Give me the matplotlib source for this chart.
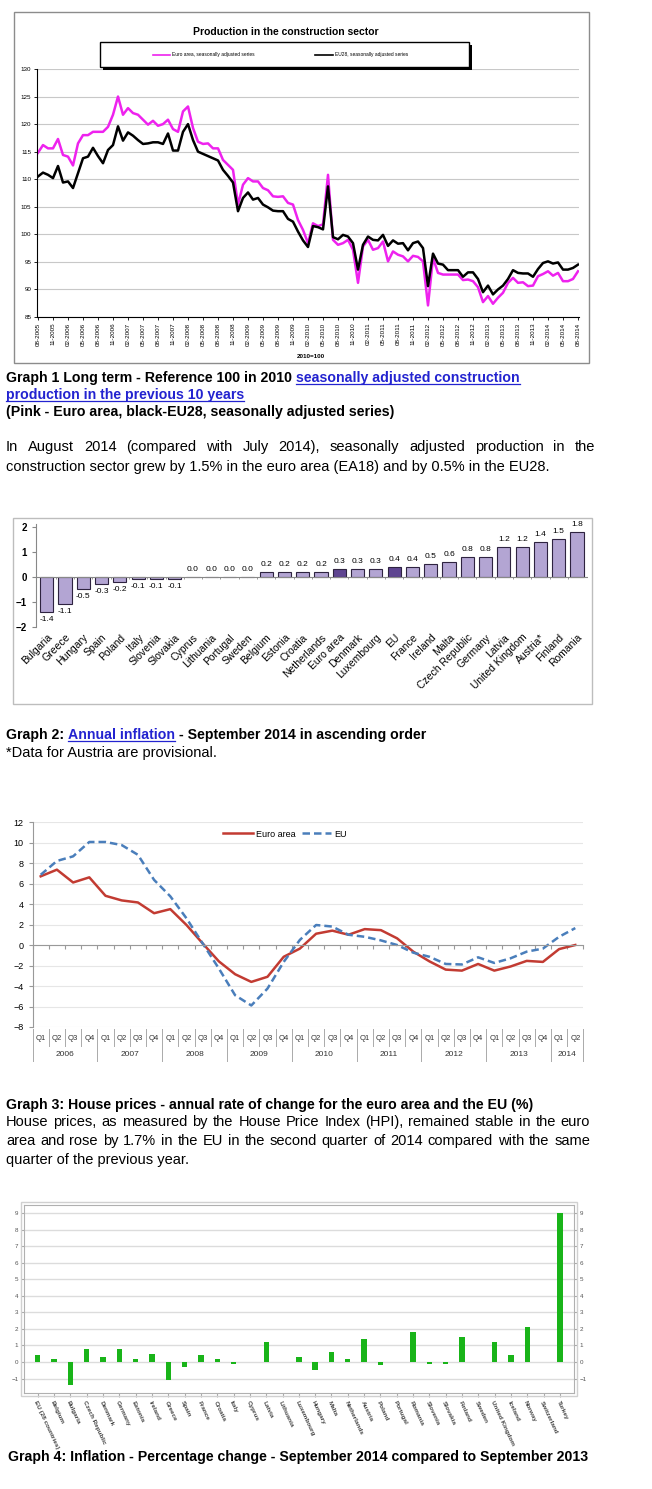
import matplotlib
matplotlib.use('Agg')
import matplotlib.pyplot as plt
import matplotlib.transforms as mtransforms
from matplotlib.patches import Rectangle
from matplotlib.lines import Line2D
import numpy as np
import pandas as pd

W, H = 652, 1489
plt.rcParams['font.family'] = ['Liberation Sans', 'DejaVu Sans']

# Graph 1 - production in construction, monthly, 2010=100
months = pd.period_range('2005-08', '2014-08', freq='M').strftime('%m-%Y').tolist()
euro_area_prod = [114.8, 116.2, 115.6, 115.6, 117.3, 114.4, 114.1, 112.5, 116.5, 118.0,
                  118.0, 118.6, 118.6, 118.6, 119.5, 121.7, 125.0, 121.7, 122.9, 122.0,
                  121.7, 120.8, 119.9, 120.6, 119.7, 120.0, 120.8, 119.1, 118.6, 122.3,
                  123.2, 119.3, 116.8, 116.4, 116.5, 115.6, 115.6, 113.5, 112.6, 111.7,
                  105.4, 109.0, 110.2, 109.6, 109.6, 108.4, 108.0, 106.9, 106.8, 106.9,
                  105.7, 105.4, 102.6, 100.8, 98.4, 102.0, 101.5, 101.8, 110.8, 99.0,
                  98.1, 98.4, 99.0, 97.2, 91.2, 97.8, 99.0, 97.2, 97.5, 98.7,
                  95.1, 96.9, 96.3, 96.0, 95.1, 96.1, 95.9, 95.1, 87.1, 95.7,
                  93.0, 92.7, 92.7, 92.7, 92.7, 91.7, 91.8, 91.5, 90.4, 87.7,
                  88.8, 87.4, 88.5, 89.4, 91.2, 92.1, 91.2, 91.3, 90.6, 90.7,
                  92.4, 92.8, 93.3, 92.5, 93.0, 91.5, 91.5, 91.9, 93.3]
eu28_prod = [110.5, 111.2, 110.8, 110.2, 112.4, 109.4, 109.6, 108.4, 111.1, 113.8,
             114.1, 115.7, 114.2, 112.9, 115.3, 116.2, 119.6, 117.0, 118.5, 117.9,
             117.1, 116.4, 116.5, 116.7, 116.7, 116.4, 118.3, 115.2, 115.2, 118.6,
             120.0, 117.1, 115.0, 114.6, 114.2, 113.8, 113.4, 111.7, 110.6, 109.4,
             104.2, 106.6, 107.6, 106.3, 106.6, 105.4, 104.9, 104.3, 104.2, 104.2,
             102.8, 102.3, 100.5, 98.9, 97.7, 101.5, 101.3, 100.9, 108.7, 99.5,
             99.1, 99.9, 99.6, 98.4, 93.6, 98.1, 99.6, 99.0, 98.9, 99.9,
             97.9, 98.9, 98.3, 98.4, 97.1, 98.4, 98.7, 97.5, 90.6, 96.5,
             94.7, 94.5, 93.5, 93.5, 93.5, 92.3, 93.1, 93.1, 91.9, 89.5,
             90.7, 89.1, 90.0, 90.7, 91.9, 93.5, 93.0, 92.9, 92.9, 92.3,
             93.7, 94.8, 95.1, 94.7, 94.9, 93.6, 93.6, 93.9, 94.5]

# Graph 2 - annual inflation September 2014
infl_countries = ['Bulgaria', 'Greece', 'Hungary', 'Spain', 'Poland', 'Italy', 'Slovenia',
                  'Slovakia', 'Cyprus', 'Lithuania', 'Portugal', 'Sweden', 'Belgium',
                  'Estonia', 'Croatia', 'Netherlands', 'Euro area', 'Denmark', 'Luxembourg',
                  'EU', 'France', 'Ireland', 'Malta', 'Czech Republic', 'Germany', 'Latvia',
                  'United Kingdom', 'Austria*', 'Finland', 'Romania']
infl_values = [-1.4, -1.1, -0.5, -0.3, -0.2, -0.1, -0.1, -0.1, 0.0, 0.0, 0.0, 0.0, 0.2, 0.2,
               0.2, 0.2, 0.3, 0.3, 0.3, 0.4, 0.4, 0.5, 0.6, 0.8, 0.8, 1.2, 1.2, 1.4, 1.5, 1.8]
infl_highlight = ['Euro area', 'EU']

# Graph 3 - house prices, annual rate of change
hp_quarters = ['Q1', 'Q2', 'Q3', 'Q4'] * 8 + ['Q1', 'Q2']
hp_years = ['2006', '2007', '2008', '2009', '2010', '2011', '2012', '2013', '2014']
hp_euro = [6.7, 7.35, 6.1, 6.6, 4.8, 4.35, 4.15, 3.1, 3.5, 1.95, 0.15, -1.6, -2.85, -3.6,
           -3.1, -1.15, -0.35, 1.1, 1.4, 1.0, 1.55, 1.45, 0.65, -0.65, -1.6, -2.4, -2.5,
           -1.85, -2.5, -2.1, -1.55, -1.65, -0.4, 0.0]
hp_eu = [6.85, 8.2, 8.65, 10.05, 10.05, 9.75, 8.8, 6.35, 4.75, 2.6, 0.15, -2.3, -4.9, -5.9,
         -4.25, -1.65, 0.5, 1.95, 1.8, 1.0, 0.8, 0.45, 0.0, -0.75, -1.15, -1.85, -1.9, -1.2,
         -1.75, -1.3, -0.65, -0.35, 0.8, 1.65]

# Graph 4 - inflation Sept 2014 vs Sept 2013
g4_countries = ['EU (28 countries)', 'Belgium', 'Bulgaria', 'Czech Republic', 'Denmark',
                'Germany', 'Estonia', 'Ireland', 'Greece', 'Spain', 'France', 'Croatia',
                'Italy', 'Cyprus', 'Latvia', 'Lithuania', 'Luxembourg', 'Hungary', 'Malta',
                'Netherlands', 'Austria', 'Poland', 'Portugal', 'Romania', 'Slovenia',
                'Slovakia', 'Finland', 'Sweden', 'United Kingdom', 'Iceland', 'Norway',
                'Switzerland', 'Turkey']
g4_values = [0.4, 0.2, -1.4, 0.8, 0.3, 0.8, 0.2, 0.5, -1.1, -0.3, 0.4, 0.2, -0.1, 0.0, 1.2,
             0.0, 0.3, -0.5, 0.6, 0.2, 1.4, -0.2, 0.0, 1.8, -0.1, -0.1, 1.5, 0.0, 1.2, 0.4,
             2.1, 0.0, 9.0]

fig = plt.figure(figsize=(W / 100, H / 100), dpi=100)
renderer = fig.canvas.get_renderer()
LINK = '#2323d0'


def box(left, top, right, bottom):
    return [left / W, 1 - bottom / H, (right - left) / W, (bottom - top) / H]


def px(x, y):
    return x / W, 1 - y / H


def text_width(s, **kw):
    t = fig.text(0, 0, s, **kw)
    w = t.get_window_extent(renderer).width
    t.remove()
    return w


def runs(x, y, parts, **kw):
    space = text_width('a a', **kw) - text_width('aa', **kw)
    for s, color, link in parts:
        t = fig.text(*px(x, y), s, color=color, va='baseline', **kw)
        w = t.get_window_extent(renderer).width
        if link:
            fig.add_artist(Line2D([x / W, (x + w) / W], [1 - (y + 2) / H] * 2,
                                  color=color, lw=0.9))
        x += w + space


def justify(y, s, x0, x1, **kw):
    words = s.split()
    arts = [fig.text(0, 0, w, va='baseline', **kw) for w in words]
    widths = [a.get_window_extent(renderer).width for a in arts]
    gap = (x1 - x0 - sum(widths)) / (len(words) - 1)
    x = x0
    for a, w in zip(arts, widths):
        a.set_position(px(x, y))
        x += w + gap


cap = dict(fontsize=10.2, fontweight='bold')
body = dict(fontsize=10.5)

# ---------------- Graph 1
fig.add_artist(Rectangle(px(14, 363), 575 / W, 351 / H, fill=False, ec='#8c8c8c', lw=1))
ax1 = fig.add_axes(box(37, 69, 579, 317))
x1 = np.arange(len(months))
ax1.plot(x1, euro_area_prod, color='#ee22ee', lw=1.8)
ax1.plot(x1, eu28_prod, color='black', lw=1.8)
ax1.set_xlim(-0.2, len(months) - 0.8)
ax1.set_ylim(85, 130)
ax1.set_yticks(range(85, 131, 5))
ax1.grid(axis='y', color='#c8c8c8', lw=0.8)
ax1.set_xticks(x1[::3], months[::3], rotation=90)
ax1.tick_params(length=2, width=0.6, labelsize=4.5, pad=2)
for s in ['top', 'right']:
    ax1.spines[s].set_visible(False)
fig.text(*px(286, 32), 'Production in the construction sector', ha='center', va='center',
         fontsize=7.5, fontweight='bold')
fig.text(*px(311, 356), '2010=100', ha='center', va='center', fontsize=4.5, fontweight='bold')
fig.add_artist(Rectangle(px(103, 70), 369 / W, 25 / H, fc='black', ec='none'))
fig.add_artist(Rectangle(px(100, 67), 369 / W, 25 / H, fc='white', ec='black', lw=1))
fig.add_artist(Line2D([153 / W, 170 / W], [1 - 54.5 / H] * 2, color='#ee22ee', lw=1.2))
fig.text(*px(172, 54.5), 'Euro area, seasonally adjusted series', va='center', fontsize=3.5)
fig.add_artist(Line2D([315 / W, 333 / W], [1 - 54.5 / H] * 2, color='black', lw=1.2))
fig.text(*px(335, 54.5), 'EU28, seasonally adjusted series', va='center', fontsize=3.5)

runs(6, 382, [('Graph 1 Long term - Reference 100 in 2010', 'black', False),
              ('seasonally adjusted construction', LINK, True)], **cap)
runs(6, 399, [('production in the previous 10 years', LINK, True)], **cap)
runs(6, 416, [('(Pink - Euro area, black-EU28, seasonally adjusted series)', 'black', False)], **cap)
justify(451, 'In August 2014 (compared with July 2014), seasonally adjusted production in the',
        6, 595, **body)
runs(6, 471, [('construction sector grew by 1.5% in the euro area (EA18) and by 0.5% in the EU28.',
               'black', False)], **body)

# ---------------- Graph 2
fig.add_artist(Rectangle(px(13, 704), 579 / W, 186 / H, fill=False, ec='#bdbdbd', lw=1))
ax2 = fig.add_axes(box(36, 524.2, 588, 626.7))
xi = np.arange(len(infl_countries))
colors = ['#5f4591' if c in infl_highlight else '#b3a5d3' for c in infl_countries]
ax2.bar(xi, infl_values, width=0.72, color=colors, edgecolor='#2e2340', lw=0.8)
for x, v in zip(xi, infl_values):
    ax2.annotate(f'{v:.1f}', (x, v), xytext=(0, 3 if v >= 0 else -3), textcoords='offset points',
                 ha='center', va='bottom' if v >= 0 else 'top', fontsize=6)
ax2.set_xlim(-0.585, len(infl_countries) - 0.4)
ax2.set_ylim(-2, 2.1)
ax2.set_yticks([-2, -1, 0, 1, 2])
ax2.axhline(0, color='#888888', lw=0.8)
ax2.vlines(xi[1:] - 0.5, -0.1, 0, color='#888888', lw=0.6)
for s in ['top', 'right', 'bottom']:
    ax2.spines[s].set_visible(False)
ax2.spines['left'].set_color('#888888')
ax2.set_xticks(xi, infl_countries, rotation=45, ha='right', rotation_mode='anchor')
ax2.tick_params(axis='x', length=0, labelsize=7.5, pad=4)
ax2.tick_params(axis='y', length=3, color='#888888', labelsize=7)
for t in ax2.get_yticklabels():
    t.set_fontweight('bold')

runs(6, 739, [('Graph 2:', 'black', False), ('Annual inflation', LINK, True),
              ('- September 2014 in ascending order', 'black', False)], **cap)
runs(6, 757, [('*Data for Austria are provisional.', 'black', False)], fontsize=10.5)

# ---------------- Graph 3
ax3 = fig.add_axes(box(32.6, 822, 583.4, 1027))
q = np.arange(len(hp_euro))
ax3.plot(q, hp_euro, color='#c23b32', lw=1.8, label='Euro area')
ax3.plot(q, hp_eu, color='#4a7ebb', lw=1.8, ls=(0, (3, 1.6)), label='EU')
ax3.set_xlim(-0.5, len(q) - 0.5)
ax3.set_ylim(-8, 12)
ax3.set_yticks(range(-8, 13, 2))
ax3.grid(axis='y', color='#e6e6e6', lw=0.8)
ax3.spines['bottom'].set_position(('data', 0))
for s in ['top', 'right']:
    ax3.spines[s].set_visible(False)
ax3.spines['bottom'].set_color('#999999')
ax3.spines['left'].set_color('#999999')
ax3.set_xticks(np.arange(len(q) + 1) - 0.5)
ax3.tick_params(axis='x', length=3, color='#999999', labelbottom=False)
ax3.tick_params(axis='y', length=3, color='#999999', labelsize=6.5)
ax3.legend(loc='center', bbox_to_anchor=px(285, 834), bbox_transform=fig.transFigure, ncol=2,
           frameon=False, fontsize=6.5, handlelength=3.3, handletextpad=0.35, columnspacing=0.7)
trans = mtransforms.blended_transform_factory(ax3.transData, ax3.transAxes)
for i, lab in enumerate(hp_quarters):
    ax3.text(i, -0.054, lab, transform=trans, ha='center', va='center', fontsize=5.5, color='#333333')
for k, yr in enumerate(hp_years):
    cnt = min(4, len(q) - 4 * k)
    ax3.text(4 * k + (cnt - 1) / 2, -0.132, yr, transform=trans, ha='center', va='center',
             fontsize=6, color='#333333')
for b in range(len(q) + 1):
    low = -0.166 if (b % 4 == 0 or b == len(q)) else -0.093
    ax3.plot([b - 0.5, b - 0.5], [-0.01, low], transform=trans, color='#aaaaaa', lw=0.7,
             clip_on=False)

runs(6, 1109, [('Graph 3: House prices - annual rate of change for the euro area and the EU (%)',
                'black', False)], **cap)
justify(1126, 'House prices, as measured by the House Price Index (HPI), remained stable in the euro',
        6, 590, **body)
justify(1145, 'area and rose by 1.7% in the EU in the second quarter of 2014 compared with the same',
        6, 590, **body)
runs(6, 1164, [('quarter of the previous year.', 'black', False)], **body)

# ---------------- Graph 4
ax4 = fig.add_axes(box(24, 1205, 574, 1393))
xg = np.arange(len(g4_countries))
ax4.bar(xg, g4_values, width=0.33, color='#19b419')
ax4.set_xlim(-0.84, len(g4_countries) - 0.14)
ax4.set_ylim(-1.87, 9.48)
ax4.set_yticks(range(-1, 10))
ax4.grid(axis='y', color='#dcdcdc', lw=1)
ax4.set_axisbelow(True)
ax4.tick_params(axis='y', labelsize=4.5, labelcolor='#555555', length=2, color='#aaaaaa',
                right=True, labelright=True, pad=2)
ax4.set_xticks(xg, g4_countries, rotation=-65, ha='left', va='top', rotation_mode='anchor',
               fontsize=4.6, fontweight='bold')
ax4.tick_params(axis='x', length=3, color='#aaaaaa', pad=2, labelcolor='#444444')
for s in ax4.spines.values():
    s.set_color('#b0b0b0')
fig.add_artist(Rectangle(px(21, 1396), 556 / W, 194 / H, fill=False, ec='#d0d0d0', lw=1))

runs(8, 1461, [('Graph 4: Inflation - Percentage change - September 2014 compared to September 2013',
                'black', False)], **cap)

fig.savefig('out.png', dpi=100, facecolor='white')
